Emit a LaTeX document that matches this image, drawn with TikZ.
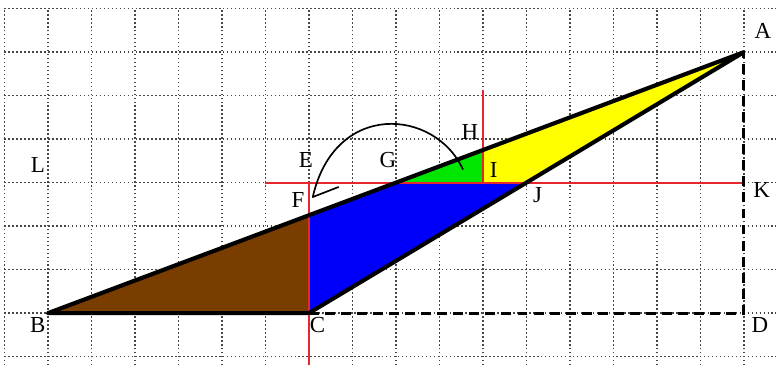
\documentclass[tikz,border=0pt]{standalone}
\usepackage{fontspec}
\setmainfont{Liberation Serif}
\usetikzlibrary{arrows.meta,calc}
\definecolor{GridGray}{RGB}{70,70,70}
\definecolor{SoilBrown}{RGB}{122,61,0}
\definecolor{PureBlue}{RGB}{0,0,250}
\definecolor{PureGreen}{RGB}{0,230,0}
\definecolor{PureYellow}{RGB}{255,255,0}
\definecolor{LineRed}{RGB}{228,40,45}

\begin{document}
\begin{tikzpicture}[
    gridline/.style={GridGray, line width=1pt, dash pattern=on 1pt off 1.6pt},
    redline/.style={LineRed, line width=1.3pt},
    outline/.style={black, line width=2.7pt, line join=round, line cap=round},
    helpline/.style={black, line width=1.8pt, dash pattern=on 6.5pt off 4pt},
    lbl/.style={font=\fontsize{15}{17}\selectfont, inner sep=0pt}]
\useasboundingbox (-1.1,-1.2) rectangle (16.74,7.2);
\draw[gridline] (-1,-1.2) grid (16.74,7);
% points of the figure
\coordinate (A) at (16,6);
\coordinate (B) at (0,0);
\coordinate (C) at (6,0);
\coordinate (D) at (16,0);
\coordinate (E) at (6,3);
\coordinate (F) at (6,2.25);
\coordinate (G) at (8,3);
\coordinate (H) at (10,3.75);
\coordinate (I) at (10,3);
\coordinate (J) at (11,3);
\coordinate (K) at (16,3);
\coordinate (redL) at (5,3);
\coordinate (redB) at (6,-1.2);
\coordinate (redT) at (10,5.12);
% coloured parts
\fill[SoilBrown] (B) -- (C) -- (F) -- cycle;
\fill[PureBlue] (F) -- (C) -- (J) -- (G) -- cycle;
\fill[PureGreen] (G) -- (I) -- (H) -- cycle;
\fill[PureYellow] (H) -- (I) -- (J) -- (A) -- cycle;
% red lines
\draw[redline] (redL) -- (K);
\draw[redline] (E) -- (redB);
\draw[redline] (I) -- (redT);
% triangle and dashed lines
\draw[helpline] (C) -- (D) -- (A);
\draw[outline] (B) -- (C) -- (A) -- cycle;
% hand drawn arrow
\coordinate (arrS) at (9.54,3.31);
\coordinate (arrT) at (6.09,2.67);
\coordinate (arrB) at (6.68,2.9);
\draw[black, line width=1.1pt, line cap=round, line join=round]
  (arrS) .. controls (8.9,4.7) and (6.6,4.9) .. (arrT) -- (arrB);
% labels
\node[lbl] (lA) at (16.44,6.5) {A};
\node[lbl] (lB) at (-0.23,-0.28) {B};
\node[lbl] (lC) at (6.2,-0.28) {C};
\node[lbl] (lD) at (16.37,-0.28) {D};
\node[lbl] (lE) at (5.93,3.52) {E};
\node[lbl] (lF) at (5.75,2.6) {F};
\node[lbl] (lG) at (7.82,3.52) {G};
\node[lbl] (lH) at (9.7,4.16) {H};
\node[lbl] (lI) at (10.25,3.29) {I};
\node[lbl] (lJ) at (11.26,2.71) {J};
\node[lbl] (lK) at (16.41,2.83) {K};
\node[lbl] (lL) at (-0.23,3.4) {L};
\end{tikzpicture}
\end{document}
